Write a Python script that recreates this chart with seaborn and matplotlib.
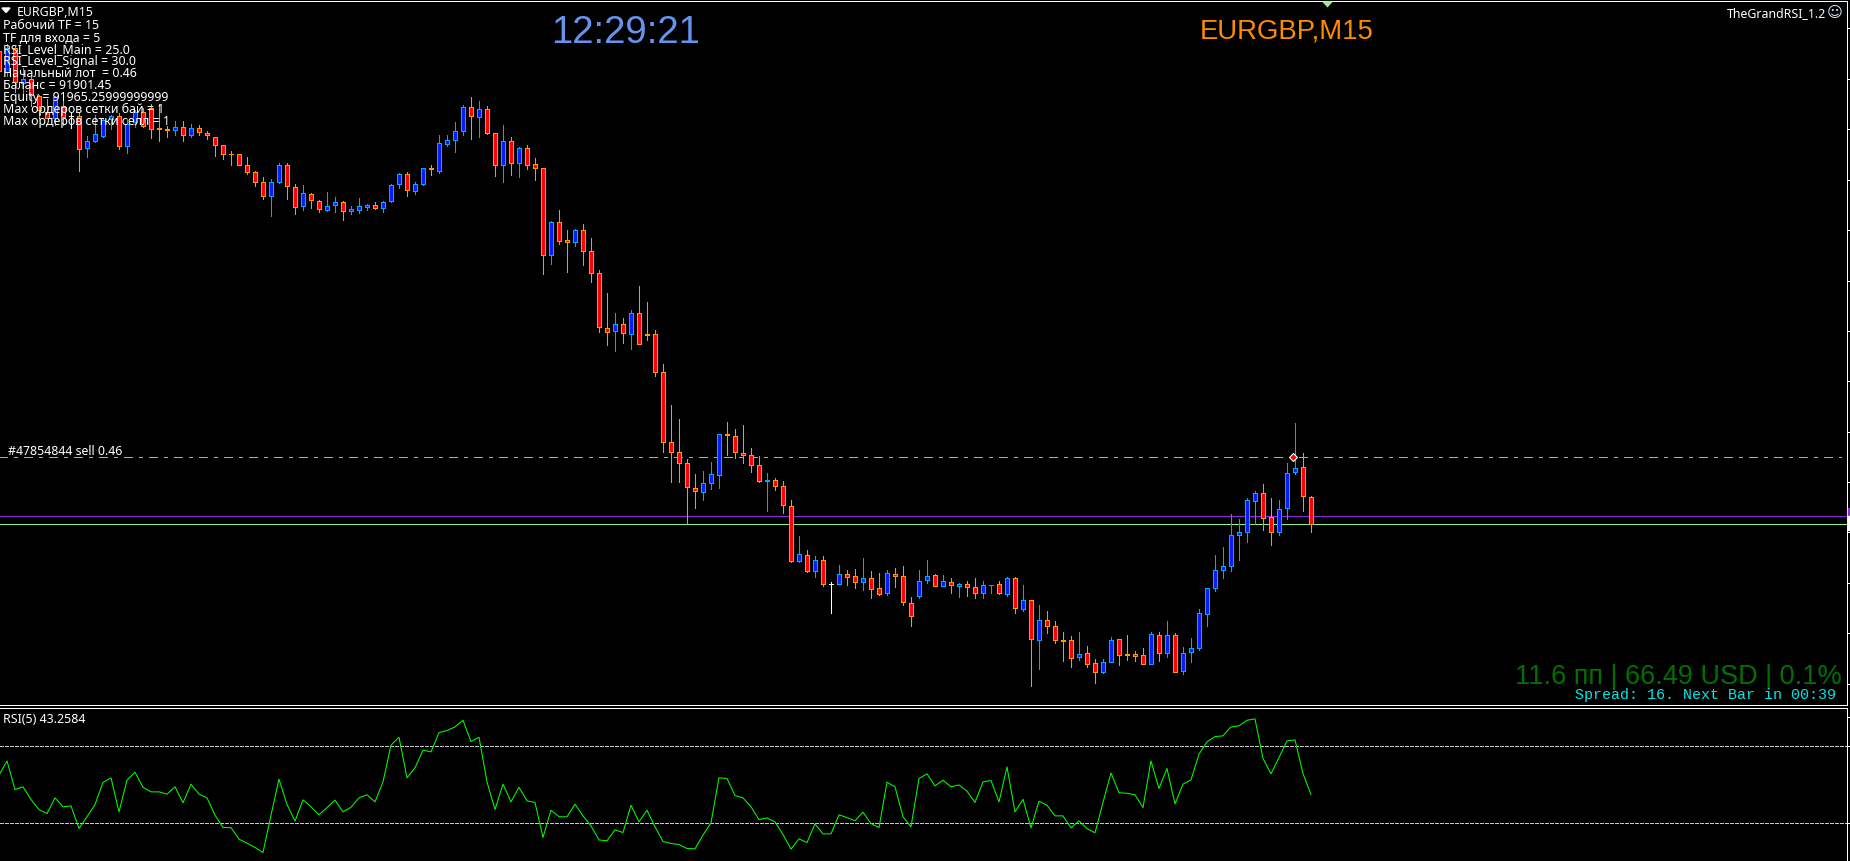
import matplotlib
matplotlib.use("Agg")
import matplotlib.pyplot as plt
from matplotlib.patches import Rectangle
import numpy as np
import pandas as pd
import seaborn as sns

# Bars of EURGBP M15, in points relative to the current bid.
open_pts = [945, 904, 951, 882, 890, 856, 824, 812, 834, 816,
            816, 751, 765, 775, 809, 816, 755, 803, 823, 831,
            791, 789, 787, 793, 777, 791, 781, 773, 757, 740,
            739, 717, 703, 683, 655, 683, 717, 673, 635, 659,
            645, 627, 637, 643, 625, 627, 633, 637, 631, 645,
            679, 699, 665, 679, 711, 706, 759, 767, 785, 833,
            813, 829, 781, 717, 765, 721, 751, 719, 711, 537,
            603, 567, 563, 587, 545, 501, 391, 385, 399, 379,
            421, 379, 379, 303, 163, 143, 121, 71, 63, 81,
            97, 179, 175, 141, 137, 117, 85, 87, 75, 35,
            -75, -63, -95, -73, -120, -121, -101, -105, -117, -109,
            -129, -139, -101, -105, -159, -145, -113, -103, -125, -117,
            -125, -121, -127, -139, -123, -121, -141, -109, -171, -153,
            -233, -193, -205, -232, -233, -267, -259, -279, -297, -277,
            -231, -260, -261, -263, -281, -223, -259, -223, -295, -257,
            -249, -181, -129, -93, -85, -23, -17, 45, 61, 13,
            -17, 31, 103, 113, 53]
close_pts = [905, 952, 883, 890, 858, 828, 812, 854, 814, 816,
             749, 765, 779, 808, 815, 755, 800, 823, 795, 789,
             789, 787, 793, 777, 791, 783, 777, 757, 739, 739,
             717, 703, 683, 655, 683, 717, 675, 633, 661, 647,
             629, 635, 643, 625, 629, 635, 637, 631, 643, 677,
             699, 667, 679, 711, 709, 761, 767, 785, 833, 815,
             829, 781, 717, 765, 721, 751, 717, 711, 537, 603,
             565, 563, 587, 545, 501, 393, 383, 399, 381, 421,
             359, 378, 303, 163, 143, 121, 73, 65, 81, 99,
             179, 177, 143, 137, 117, 85, 87, 75, 37, -75,
             -61, -95, -73, -121, -120, -101, -107, -117, -109, -131,
             -141, -99, -105, -157, -185, -115, -105, -125, -115, -123,
             -121, -127, -139, -123, -122, -139, -109, -169, -153, -231,
             -193, -205, -233, -234, -269, -261, -281, -297, -277, -233,
             -263, -263, -265, -281, -221, -259, -223, -297, -259, -249,
             -179, -129, -93, -85, -23, -17, 47, 61, 11, -17,
             29, 101, 111, 55, 0]
high_pts = [958, 960, 955, 912, 896, 858, 850, 856, 854, 824,
            821, 776, 818, 811, 818, 821, 809, 828, 831, 840,
            840, 795, 805, 806, 799, 797, 786, 773, 757, 746,
            739, 734, 705, 694, 690, 721, 721, 680, 678, 662,
            647, 663, 654, 645, 635, 652, 640, 644, 646, 679,
            701, 704, 683, 711, 718, 778, 778, 804, 838, 853,
            845, 836, 781, 797, 774, 753, 757, 731, 711, 605,
            627, 587, 589, 599, 571, 507, 461, 421, 411, 427,
            475, 443, 387, 319, 237, 209, 129, 99, 105, 123,
            179, 203, 189, 197, 151, 135, 101, 91, 86, 48,
            -24, -52, -64, -64, -116, -82, -92, -90, -68, -94,
            -98, -92, -88, -84, -146, -92, -72, -100, -102, -108,
            -118, -114, -108, -115, -122, -114, -106, -106, -122, -153,
            -162, -174, -194, -216, -224, -216, -244, -270, -270, -226,
            -231, -222, -254, -248, -216, -216, -194, -219, -246, -228,
            -171, -129, -62, -46, 20, 9, 51, 66, 80, 52,
            48, 121, 202, 142, 56]
low_pts = [892, 896, 864, 856, 836, 812, 812, 798, 798, 792,
           705, 733, 763, 773, 790, 749, 741, 793, 793, 771,
           765, 773, 777, 765, 773, 777, 769, 735, 729, 718,
           717, 699, 675, 649, 615, 681, 650, 619, 627, 632,
           623, 625, 623, 607, 619, 621, 628, 630, 623, 643,
           671, 655, 659, 677, 697, 701, 755, 743, 777, 770,
           774, 780, 695, 683, 698, 693, 709, 687, 499, 519,
           559, 503, 555, 517, 483, 383, 357, 345, 361, 349,
           359, 367, 295, 143, 83, 83, 0, 31, 47, 69,
           71, 137, 131, 121, 103, 83, 25, 67, 21, -77,
           -77, -97, -107, -124, -178, -121, -122, -128, -132, -148,
           -143, -142, -126, -162, -204, -148, -118, -125, -125, -138,
           -146, -144, -148, -148, -138, -141, -144, -178, -174, -324,
           -290, -218, -239, -274, -287, -272, -287, -318, -299, -277,
           -282, -272, -274, -281, -281, -274, -267, -297, -301, -276,
           -253, -205, -135, -109, -95, -72, -37, -1, -13, -43,
           -23, 10, 99, 26, -16]

# RSI(5), one reading per bar.
rsi_values = [55.9, 65.2, 46.6, 48.4, 40.1, 33.6, 31.0, 41.2, 35.4, 36.0,
              21.3, 28.9, 36.9, 51.2, 54.2, 32.1, 52.7, 57.9, 48.1, 45.1,
              45.1, 43.6, 48.4, 38.0, 50.1, 43.6, 41.2, 30.0, 21.9, 21.9,
              14.4, 11.8, 9.0, 5.7, 30.0, 53.3, 36.9, 26.1, 39.9, 35.4,
              30.2, 34.9, 39.7, 32.1, 35.1, 41.2, 43.2, 38.6, 51.6, 75.4,
              80.6, 54.2, 60.7, 72.2, 71.1, 83.6, 84.9, 87.3, 91.6, 77.8,
              80.6, 51.6, 33.6, 50.1, 38.6, 48.1, 39.3, 38.2, 15.5, 33.2,
              28.9, 28.9, 37.1, 29.5, 23.0, 13.9, 13.3, 20.4, 18.7, 36.4,
              25.6, 33.2, 22.4, 12.9, 11.6, 10.9, 8.3, 8.1, 17.0, 25.0,
              54.2, 53.8, 42.7, 41.2, 35.4, 27.1, 28.2, 25.6, 17.4, 7.9,
              14.6, 12.2, 24.3, 17.8, 17.8, 30.2, 28.4, 26.3, 31.9, 24.5,
              21.9, 51.4, 48.4, 28.9, 22.4, 53.8, 56.8, 49.0, 52.7, 48.4,
              49.6, 45.5, 38.2, 51.6, 52.5, 38.6, 61.3, 32.1, 40.3, 21.7,
              39.0, 36.4, 29.5, 29.5, 21.7, 26.3, 21.3, 18.5, 38.2, 57.4,
              44.5, 44.2, 43.2, 34.9, 65.2, 47.3, 60.3, 37.3, 50.1, 52.9,
              69.6, 77.6, 81.0, 81.5, 87.3, 88.0, 91.6, 92.5, 66.8, 56.8,
              67.4, 78.2, 78.9, 57.0, 43.2584]

rsi_levels = [75, 25]
rsi_ticks = [94, 75, 25]

# Trade and quote levels, in the same points as the bars.
ask_level = 16
bid_level = 0
order_level = 133
order_bar = 160.75
price_ticks = [-320, -219, -118, -17, 83, 184, 285, 386, 486, 587, 688, 789, 890, 991]

status_lines = ["Рабочий TF = 15", "TF для входа = 5", "RSI_Level_Main = 25.0",
                "RSI_Level_Signal = 30.0", "Начальный лот  = 0.46", "Баланс = 91901.45",
                "Equity = 91965.25999999999", "Max ордеров сетки бай = 1",
                "Max ордеров сетки селл = 1"]

BEAR_EDGE, BEAR_FILL = "#FF9900", "#FF0000"
BULL_EDGE, BULL_FILL = "#00AAFF", "#0020FF"
ONE_PX = 0.72  # line width of one pixel at 100 dpi
W, H = 1850, 862

sns.set_theme(style="dark", rc={
    "figure.facecolor": "black", "axes.facecolor": "black",
    "axes.edgecolor": "white", "text.color": "white",
    "xtick.color": "white", "ytick.color": "white",
    "lines.scale_dashes": False, "axes.grid": False,
})

bars = pd.DataFrame({"open": open_pts, "high": high_pts, "low": low_pts, "close": close_pts})
bars["bar"] = np.arange(len(bars)) - 1
oscillator = pd.DataFrame({"bar": bars["bar"], "rsi": rsi_values})

fig = plt.figure(figsize=(W / 100, H / 100), dpi=100)


def panel(top_px, bottom_px):
    """Axes spanning the chart width between two pixel rows."""
    return fig.add_axes([0, 1 - bottom_px / H, 1846.5 / W, (bottom_px - top_px) / H])


ax = panel(1.5, 705.5)
ax_rsi = panel(708.5, 862)
bar_limits = (-7 / 8, 229.94)

for a in (ax, ax_rsi):
    a.set_xlim(*bar_limits)
    a.set_xticks([])
    a.spines["left"].set_visible(False)
    for side in ("top", "right", "bottom"):
        a.spines[side].set_linewidth(ONE_PX)
        a.spines[side].set_color("white")
    a.yaxis.tick_right()
    a.tick_params(axis="y", length=3, width=ONE_PX, color="white", labelright=False, pad=0)
ax_rsi.spines["bottom"].set_visible(False)

ax.set_ylim(-362, 1046)
ax.set_yticks(price_ticks)
ax_rsi.set_ylim(0.2, 99.9)
ax_rsi.set_yticks(rsi_ticks)

# Quote lines and the open order sit behind the bars.
ax.axhline(ask_level, color="#8A2BE2", lw=ONE_PX, zorder=1, antialiased=False)
ax.axhline(bid_level, color="#90EE90", lw=ONE_PX, zorder=1, antialiased=False)
ax.plot([-1, 229.25], [order_level, order_level], color="#FF8F66", lw=ONE_PX, zorder=1,
        antialiased=False, linestyle=(0, (9 * ONE_PX, 6 * ONE_PX, 3 * ONE_PX, 6 * ONE_PX)))

# Candles: wick first, then the body with its outline.
for row in bars.itertuples():
    if row.close < row.open:
        edge, fill = BEAR_EDGE, BEAR_FILL
    elif row.close > row.open:
        edge, fill = BULL_EDGE, BULL_FILL
    else:
        edge, fill = "white", "white"
    ax.vlines(row.bar, row.low, row.high, color=edge, lw=ONE_PX, zorder=2, antialiased=False)
    ax.bar(row.bar, abs(row.close - row.open), bottom=min(row.open, row.close), width=0.55,
           color=fill, edgecolor=edge, linewidth=ONE_PX, zorder=3, antialiased=False)

ax.plot([order_bar], [order_level], marker="D", ms=4.5, mfc="#FF0000", mec="white", mew=0.8, zorder=5)

# Chart-shift marker hanging from the top border.
ax.plot([165], [1040], marker=[(-1, 0.55), (1, 0.55), (0, -0.55)], ms=8, mfc="#90EE90", mec="#90EE90",
        mew=0, clip_on=False, zorder=5)

# Oscillator panel.
for level in rsi_levels:
    ax_rsi.axhline(level, color="#C8C8C8", lw=ONE_PX, antialiased=False,
                   linestyle=(0, (3 * ONE_PX, 2 * ONE_PX)), zorder=1)
sns.lineplot(data=oscillator, x="bar", y="rsi", ax=ax_rsi, color="#00FF00", linewidth=0.75,
             estimator=None, sort=False, legend=False, zorder=3, antialiased=True)
ax_rsi.set_xlabel("")
ax_rsi.set_ylabel("")


def label(x_px, y_px, text, **kw):
    """Text anchored on its baseline at pixel coordinates."""
    kw.setdefault("va", "baseline")
    fig.text(x_px / W, 1 - y_px / H, text, **kw)


small = dict(family="Noto Sans", fontsize=8.9, color="white")
fig.add_artist(plt.Polygon([[2 / W, 1 - 9 / H], [10 / W, 1 - 9 / H], [6 / W, 1 - 13.5 / H]],
                           closed=True, color="white", transform=fig.transFigure))
label(17, 16, "EURGBP,M15", **small)
for i, line in enumerate(status_lines):
    label(3, 29 + i * 12.03, line, **small)

label(626, 43, "12:29:21", family="Liberation Sans", fontsize=27.6, color="#6495ED", ha="center")
label(1287, 38, "EURGBP,M15", family="Liberation Sans", fontsize=19.8, color="#FF8C00", ha="center")
label(1727, 17, "TheGrandRSI_1.2", **small)
label(1835, 17.5, "☺", family="DejaVu Sans", fontsize=11, color="#CFE8FF", ha="center")
label(8, 455, "#47854844 sell 0.46", **small)
label(1842, 684, "11.6 пп | 66.49 USD | 0.1%", family="Liberation Sans", fontsize=19.5,
      color="#007000", ha="right")
label(1836, 699.5, "Spread: 16. Next Bar in 00:39", family="Liberation Mono", fontsize=10.8,
      color="#00E5E5", ha="right")
label(3, 723, "RSI(5) 43.2584", **small)

# Quote tags peeking in at the right-hand edge.
fig.add_artist(Rectangle((1848 / W, 1 - 516 / H), 2 / W, 7 / H, color="#8A2BE2", transform=fig.transFigure))
fig.add_artist(Rectangle((1848 / W, 1 - 531 / H), 2 / W, 14 / H, color="white", transform=fig.transFigure))

fig.savefig("out.png", dpi=100, facecolor="black")
